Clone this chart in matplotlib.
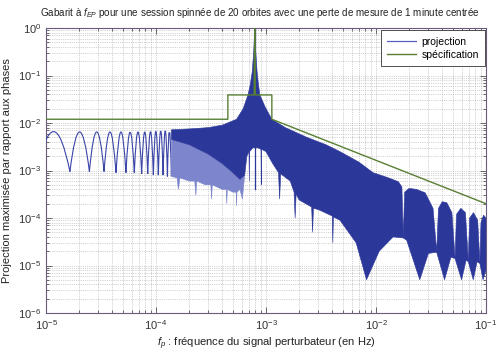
import numpy as np
import matplotlib
matplotlib.use('Agg')
import matplotlib.pyplot as plt
from matplotlib.path import Path
from matplotlib.patches import PathPatch
from matplotlib.lines import Line2D
import matplotlib.ticker as mticker

plt.rcParams['font.family'] = ['Liberation Sans', 'DejaVu Sans']
plt.rcParams['mathtext.fontset'] = 'custom'
plt.rcParams['mathtext.rm'] = 'Liberation Sans'
plt.rcParams['mathtext.it'] = 'Liberation Sans:italic'
plt.rcParams['mathtext.bf'] = 'Liberation Sans:bold'

# ---------------- data ----------------
x_ticks = [1e-5, 1e-4, 1e-3, 1e-2, 1e-1]
y_ticks = [1e-6, 1e-5, 1e-4, 1e-3, 1e-2, 1e-1, 1e0]

# low-frequency arches of the projection (null positions, null depths, arch tops)
arch_null_f = [8.3e-6, 1.65e-5, 2.48e-5, 3.37e-5, 4.33e-5, 5.33e-5, 6.35e-5,
               7.41e-5, 8.41e-5, 9.46e-5, 1.05e-4, 1.16e-4, 1.27e-4, 1.38e-4]
arch_null_v = [9.5e-4, 9.5e-4, 9.5e-4, 9.5e-4, 9e-4, 9e-4, 9e-4,
               8.5e-4, 8.5e-4, 8e-4, 8e-4, 8e-4, 7.5e-4, 7.5e-4]
arch_top_v = [6.6e-3, 6.5e-3, 6.5e-3, 6.5e-3, 6.5e-3, 6.5e-3, 6.6e-3,
              6.6e-3, 6.7e-3, 6.8e-3, 6.9e-3, 7.0e-3, 7.2e-3]

# dense part of the projection: upper envelope
upper_f = [1.38e-4, 2e-4, 3e-4, 4e-4, 5.4e-4, 6.2e-4, 6.86e-4, 7.2e-4, 7.5e-4,
           7.75e-4, 7.9e-4, 8.05e-4, 8.3e-4, 8.5e-4, 8.8e-4, 9.8e-4, 1.13e-3,
           1.5e-3, 2.35e-3, 3.5e-3, 4.7e-3, 7e-3, 9.4e-3, 1.3e-2, 1.6e-2, 1.72e-2,
           1.77e-2, 1.82e-2, 2.0e-2, 2.34e-2, 2.8e-2, 3.3e-2, 3.56e-2, 3.7e-2, 4.0e-2,
           4.4e-2, 4.9e-2, 5.23e-2, 5.4e-2, 5.9e-2, 6.5e-2, 6.9e-2, 7.1e-2, 7.7e-2,
           8.4e-2, 8.8e-2, 9.0e-2, 9.5e-2, 1e-1]
upper_v = [7.2e-3, 7.5e-3, 8e-3, 9e-3, 1.2e-2, 2e-2, 3.9e-2, 6.5e-2, 0.12,
           0.35, 1.0, 0.35, 0.12, 7e-2, 3.9e-2, 2.2e-2, 1.2e-2,
           8e-3, 5e-3, 3.5e-3, 2.5e-3, 1.5e-3, 9e-4, 7e-4, 5.8e-4, 4.5e-4,
           4e-5, 3.5e-4, 4.2e-4, 4e-4, 3.4e-4, 1.6e-4, 2e-5, 1.6e-4, 2.2e-4,
           2.1e-4, 1.3e-4, 1.5e-5, 1.2e-4, 1.6e-4, 1.3e-4, 1.3e-5, 1.0e-4, 1.3e-4,
           9e-5, 1.2e-5, 8e-5, 1.15e-4, 1e-4]

# dense part of the projection: lower envelope (with spikes)
lower_f = [1.38e-4, 1.55e-4, 1.6e-4, 1.65e-4, 2.0e-4, 2.25e-4, 2.3e-4, 2.35e-4,
           2.8e-4, 3.15e-4, 3.2e-4, 3.25e-4, 4e-4, 4.35e-4, 4.4e-4, 4.45e-4,
           5e-4, 5.35e-4, 5.4e-4, 5.45e-4, 5.8e-4, 6.1e-4, 6.4e-4, 6.7e-4,
           7.0e-4, 7.05e-4, 7.1e-4, 7.6e-4, 8.4e-4, 9.0e-4, 9.05e-4, 9.1e-4,
           1.0e-3, 1.15e-3, 1.3e-3, 1.33e-3, 1.36e-3, 1.66e-3, 1.8e-3, 1.84e-3,
           1.88e-3, 2.0e-3, 2.6e-3, 2.65e-3, 2.7e-3, 3.0e-3, 4.0e-3, 4.05e-3,
           4.1e-3, 4.7e-3, 6.6e-3, 8.2e-3, 1.07e-2, 1.43e-2, 1.77e-2, 1.9e-2,
           2.5e-2, 3.0e-2, 3.56e-2, 4.2e-2, 4.8e-2, 5.23e-2, 6.0e-2, 6.6e-2,
           6.9e-2, 7.66e-2, 8.3e-2, 8.8e-2, 9.4e-2, 1e-1]
lower_v = [7.5e-4, 7e-4, 4e-4, 7e-4, 6e-4, 6e-4, 3e-4, 6e-4,
           5e-4, 5e-4, 2.5e-4, 5e-4, 4e-4, 4e-4, 2e-4, 4e-4,
           3.5e-4, 3.5e-4, 1.8e-4, 3.5e-4, 4e-4, 2.5e-4, 8e-4, 2e-3,
           2.5e-3, 6e-4, 2.5e-3, 3e-3, 3e-3, 2.8e-3, 5e-4, 2.8e-3,
           2.5e-3, 1.4e-3, 9e-4, 2.5e-4, 8.5e-4, 6e-4, 3.5e-4, 1e-4,
           3.2e-4, 2.4e-4, 1.7e-4, 5e-5, 1.6e-4, 1.5e-4, 1.1e-4, 3e-5,
           1.05e-4, 9e-5, 3e-5, 5e-6, 2e-5, 4e-5, 3.8e-5, 3.4e-5,
           5e-6, 1.8e-5, 1.9e-5, 5e-6, 1.5e-5, 1.4e-5, 5e-6, 1.3e-5,
           1.2e-5, 5e-6, 1.2e-5, 1.1e-5, 5e-6, 8e-6]

# darker core of the dense band on the left of the peak
core_f = [1.38e-4, 2e-4, 3e-4, 4e-4, 5e-4, 5.8e-4, 6.4e-4]
core_v = [4.5e-3, 3.5e-3, 2.2e-3, 1.4e-3, 9e-4, 6.5e-4, 8e-4]

# thin central line at f_EP
f_ep = 7.9e-4
ep_line_v = [4e-4, 1.0]

# specification template
spec_f = [1e-5, 4.5e-4, 4.5e-4, 7.8e-4, 7.9e-4, 8.0e-4, 1.13e-3, 1.13e-3, 1e-1]
spec_v = [1.2e-2, 1.2e-2, 3.9e-2, 3.9e-2, 1.0, 3.9e-2, 3.9e-2, 1.2e-2, 2.0e-4]

# ---------------- figure ----------------
W, H = 496, 356
fig = plt.figure(figsize=(W / 100, H / 100), dpi=100)
L, R, T, B = 46, 486, 28, 313
ax = fig.add_axes([L / W, (H - B) / H, (R - L) / W, (B - T) / H])
ax.set_xscale('log')
ax.set_yscale('log')
ax.set_xlim(x_ticks[0], x_ticks[-1])
ax.set_ylim(y_ticks[0], y_ticks[-1])

blue = '#2c379a'
light_blue = '#7d86cc'
green = '#587f34'

# arches
verts, codes = [], []
for i in range(len(arch_null_f) - 1):
    x1, x2 = arch_null_f[i], arch_null_f[i + 1]
    y1, y2 = arch_null_v[i], arch_null_v[i + 1]
    xm = np.sqrt(x1 * x2)
    lc = (4 * np.log10(arch_top_v[i]) - np.log10(y1) - np.log10(y2)) / 2
    verts += [(x1, y1), (xm, 10 ** lc), (x2, y2)]
    codes += [Path.MOVETO, Path.CURVE3, Path.CURVE3]
ax.add_patch(PathPatch(Path(verts, codes), facecolor='none', edgecolor='#3a45a8',
                       lw=0.8, transform=ax.transData, zorder=3))

# dense region: light band (left) + dark body
lf = np.array(lower_f)
lv = np.array(lower_v)
left = lf <= core_f[-1]
right = lf >= core_f[-1]
ax.fill(np.r_[core_f, lf[left][::-1]], np.r_[core_v, lv[left][::-1]],
        color=light_blue, lw=0.4, zorder=3)
ax.fill(np.r_[upper_f, lf[right][::-1], core_f[::-1]],
        np.r_[upper_v, lv[right][::-1], core_v[::-1]],
        color=blue, lw=0.4, zorder=3)
ax.plot([f_ep, f_ep], ep_line_v, color=blue, lw=0.9, zorder=3)

# specification
ax.plot(spec_f, spec_v, color=green, lw=1.0, zorder=4)

# grid & ticks
def minor_of(ticks):
    return [m * t for t in ticks[:-1] for m in range(2, 10)]

ax.xaxis.set_major_locator(mticker.FixedLocator(x_ticks))
ax.yaxis.set_major_locator(mticker.FixedLocator(y_ticks))
ax.xaxis.set_minor_locator(mticker.FixedLocator(minor_of(x_ticks)))
ax.yaxis.set_minor_locator(mticker.FixedLocator(minor_of(y_ticks)))
ax.xaxis.set_major_formatter(mticker.LogFormatterSciNotation())
ax.yaxis.set_major_formatter(mticker.LogFormatterSciNotation())
ax.yaxis.set_minor_formatter(mticker.NullFormatter())
ax.xaxis.set_minor_formatter(mticker.NullFormatter())
ax.grid(True, which='both', linestyle=':', color='#a8a8a8', lw=0.5, zorder=0)
ax.tick_params(which='both', direction='in', top=True, right=True,
               labelsize=8, colors='#333333', width=0.5)
ax.tick_params(which='major', length=4)
ax.tick_params(which='minor', length=2)
for s in ax.spines.values():
    s.set_color('#6a5a80')
    s.set_linewidth(0.8)
ax.set_axisbelow(True)

handles = [Line2D([], [], color='#5560c0', lw=0.9),
           Line2D([], [], color=green, lw=1.0)]
leg = ax.legend(handles, ['projection', 'spécification'], loc='upper right',
                bbox_to_anchor=(1.0, 0.995), borderaxespad=0.1, fontsize=7.5,
                fancybox=False, framealpha=1, edgecolor='#333333',
                handlelength=2.8, handletextpad=0.5, borderpad=0.6,
                labelspacing=0.3)
leg.get_frame().set_linewidth(0.6)

fig.text(40 / W, 1 - 13 / H,
         'Gabarit à $f_{EP}$ pour une session spinnée de 20 orbites avec une perte de mesure de 1 minute centrée',
         fontsize=7.1, ha='left', va='center', color='#222222')
ax.set_ylabel('Projection maximisée par rapport aux phases', fontsize=8,
              color='#222222', labelpad=4)
ax.set_xlabel('$f_p$ : fréquence du signal perturbateur (en Hz)', fontsize=8,
              color='#222222', labelpad=3)

fig.savefig('out.png', dpi=100)
